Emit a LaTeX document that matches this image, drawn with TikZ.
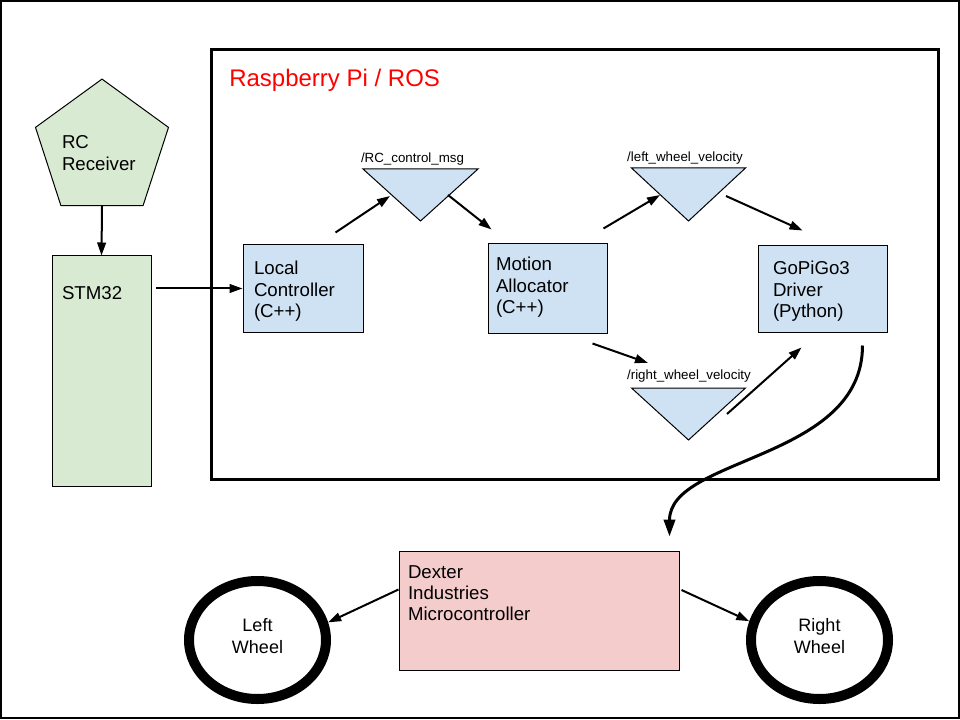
\documentclass[tikz,border=0pt]{standalone}
\usepackage{fontspec}
\setmainfont{Liberation Sans}
\usetikzlibrary{shapes.geometric}
\usetikzlibrary{arrows.meta}
\usetikzlibrary{calc}

\definecolor{rcgreen}{HTML}{D9EAD3}
\definecolor{rosblue}{HTML}{CFE2F3}
\definecolor{dexpink}{HTML}{F4CCCC}

\tikzset{
  box/.style={draw, rectangle, line width=0.75pt, inner sep=0pt, align=left},
  topic/.style={draw, line width=0.75pt, fill=rosblue},
  topiclabel/.style={font=\fontsize{10}{12}\selectfont, inner sep=0pt, anchor=base},
  wheel/.style={draw, ellipse, line width=7.5pt, minimum width=102.75pt, minimum height=88.5pt,
    inner sep=0pt, align=center, text width=60pt, text height=5pt, text depth=18.5pt,
    font=\fontsize{13.5}{17}\selectfont},
  link/.style={line width=1.5pt, -{Triangle[length=9.75pt, width=6.5pt]}},
  bus/.style={line width=2.25pt, -{Triangle[length=12.75pt, width=8.5pt]}},
}

\begin{document}
\begin{tikzpicture}[x=0.75pt, y=-0.75pt, font=\fontsize{14}{16.1}\selectfont]
\useasboundingbox (0,0) rectangle (960,720);
\draw[line width=1.5pt] (1,1) rectangle (958.5,718);

% Raspberry Pi / ROS
\draw[line width=2.25pt] (211.5,49.5) rectangle (938.5,479);
\node[anchor=base west, text=red, font=\fontsize{18}{20}\selectfont, inner sep=0pt] (pititle) at (229,87) {Raspberry Pi / ROS};

% receiver side
\node[draw, fill=rcgreen, line width=0.75pt, regular polygon, regular polygon sides=5, minimum size=102pt,
  inner sep=0pt, align=left, text width=60pt, text height=8pt, text depth=8pt] (rc) at (102,149) {RC\\Receiver};
\node[box, fill=rcgreen, minimum width=74.25pt, text width=59.25pt, text height=33pt, text depth=139.5pt] (stm) at (101.5,371) {STM32};

% ROS nodes
\node[box, fill=rosblue, minimum width=90pt, text width=73.5pt, text height=22.5pt, text depth=42.75pt] (lc) at (303,288.5) {Local\\Controller\\(C++)};
\node[box, fill=rosblue, minimum width=89.25pt, text width=77.25pt, text height=20.25pt, text depth=46.5pt] (ma) at (547.5,288.5) {Motion\\Allocator\\(C++)};
\node[box, fill=rosblue, minimum width=96.75pt, text width=74.25pt, text height=21.75pt, text depth=42.75pt] (gpg) at (822.5,289) {GoPiGo3\\Driver\\(Python)};

% topics
\coordinate (rcmsg) at (420.5,169);
\coordinate (lwv) at (688.5,168);
\coordinate (rwv) at (688.5,388);
\filldraw[topic] (rcmsg) ++(-57.5,0) -- ++(115,0) -- ++(-57.5,52) -- cycle;
\filldraw[topic] (lwv) ++(-57,0) -- ++(114,0) -- ++(-57,53) -- cycle;
\filldraw[topic] (rwv) ++(-57,0) -- ++(114,0) -- ++(-57,52) -- cycle;
\node[topiclabel] (rcmsgtxt) at ($(rcmsg)+(-8,-6)$) {/RC\_control\_msg};
\node[topiclabel] (lwvtxt) at ($(lwv)+(-3.5,-6)$) {/left\_wheel\_velocity};
\node[topiclabel] (rwvtxt) at ($(rwv)+(0.5,-9)$) {/right\_wheel\_velocity};

% hardware
\node[box, fill=dexpink, minimum width=210pt, text width=196.5pt, text height=20.25pt, text depth=69pt] (dex) at (539,610.5) {Dexter\\Industries\\Microcontroller};
\node[wheel] (lw) at (257.5,640) {Left\\Wheel};
\node[wheel] (rw) at (819.5,640) {Right\\Wheel};

% connections
\draw[link] (rc.south) -- (stm.north);
\draw[link] ($(stm.east |- lc.west)+(4,0)$) -- (lc.west);
\draw[link] ($(lc.north east)+(-28,-12)$) -- ($(rcmsg)+(-30.5,27)$);
\draw[link] ($(rcmsg)+(27.5,26)$) -- ($(ma.north west)+(4,-14)$);
\draw[link] ($(ma.north east)+(-4,-15)$) -- ($(lwv)+(-28.5,27)$);
\draw[link] ($(lwv)+(37.5,28)$) -- ($(gpg.north west)+(45,-15)$);
\draw[link] ($(ma.south east)+(-15,10)$) -- ($(rwv)+(-40.5,-25)$);
\draw[link] ($(rwv)+(38.5,26)$) -- ($(gpg.south west)+(44,15)$);
\draw[bus] ($(gpg.south east)+(-25,13)$) .. controls +(0,115) and +(0,-80) .. ($(dex.north east)+(-10,-14)$);
\draw[link] ($(dex.west)+(0,-21)$) -- (lw.14);
\draw[link] ($(dex.east)+(2,-20.5)$) -- (rw.165);
\end{tikzpicture}
\end{document}
